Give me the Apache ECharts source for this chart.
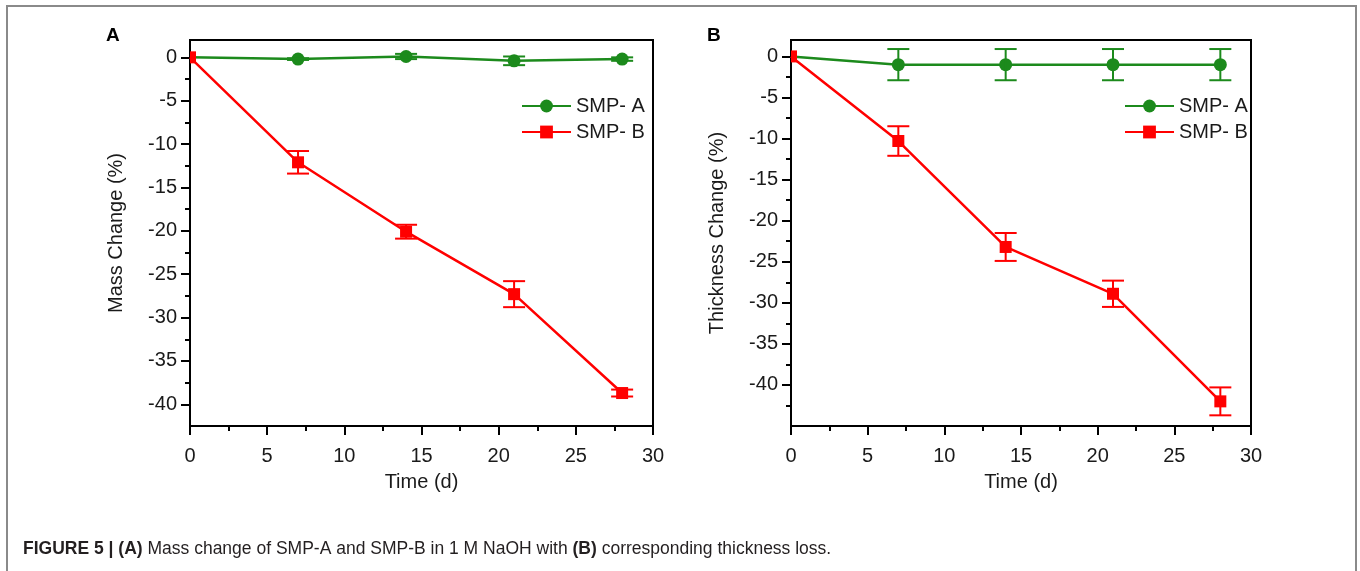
<!DOCTYPE html>
<html>
<head>
<meta charset="utf-8">
<title>Figure 5</title>
<script src="https://cdn.jsdelivr.net/npm/echarts@6/dist/echarts.min.js"></script>
<style>
  html, body { margin: 0; padding: 0; background: #fff; }
  #chart { width: 1360px; height: 571px; }
</style>
</head>
<body>
<div id="chart"></div>
<script>
// sampling days
const days = [0, 7, 14, 21, 28];

// panel A: mass change (%)
const massA = [0, -0.2, 0.1, -0.4, -0.2];
const massAErr = [0, 0.1, 0.3, 0.5, 0.2];
const massB = [0, -12.1, -20.1, -27.3, -38.7];
const massBErr = [0, 1.3, 0.8, 1.5, 0.4];

// panel B: thickness change (%)
const thickA = [0, -1.0, -1.0, -1.0, -1.0];
const thickAErr = [0, 1.9, 1.9, 1.9, 1.9];
const thickB = [0, -10.3, -23.2, -28.9, -42.0];
const thickBErr = [0, 1.8, 1.7, 1.6, 1.7];

// tick labels
const majorTicks = [0, -5, -10, -15, -20, -25, -30, -35, -40];
const minorTicksA = [-2.5, -7.5, -12.5, -17.5, -22.5, -27.5, -32.5, -37.5];
const minorTicksB = [-2.5, -7.5, -12.5, -17.5, -22.5, -27.5, -32.5, -37.5, -42.5];

const FONT = "'Liberation Sans', Arial, Helvetica, sans-serif";
const GREEN = "#1c8a1c";
const RED = "#ff0000";
const black = { color: "#000", width: 2 };

const chart = echarts.init(document.getElementById("chart"));

function xAxis(grid) {
  return {
    type: "value",
    gridIndex: grid,
    min: 0,
    max: 30,
    interval: 5,
    name: "Time (d)",
    nameLocation: "middle",
    nameGap: 46,
    nameTextStyle: { fontSize: 20, color: "#1a1a1a", fontFamily: FONT },
    axisLine: { onZero: false, lineStyle: black },
    axisTick: { length: 9, lineStyle: black },
    minorTick: { show: true, splitNumber: 2, length: 5, lineStyle: black },
    axisLabel: { fontSize: 20, color: "#1a1a1a", fontFamily: FONT, margin: 20 },
    splitLine: { show: false },
  };
}

function yAxes(grid, min, name, minors) {
  return [
    {
      type: "value",
      gridIndex: grid,
      min: min,
      max: 2,
      position: "left",
      name: name,
      nameLocation: "middle",
      nameGap: 64,
      nameTextStyle: { fontSize: 20, color: "#1a1a1a", fontFamily: FONT },
      axisLine: { show: true, onZero: false, lineStyle: black },
      axisTick: { show: true, customValues: majorTicks, length: 9, lineStyle: black },
      axisLabel: { customValues: majorTicks, fontSize: 20, color: "#1a1a1a", fontFamily: FONT, margin: 13 },
      splitLine: { show: false },
    },
    {
      // minor ticks only
      type: "value",
      gridIndex: grid,
      min: min,
      max: 2,
      position: "left",
      offset: 0,
      axisLine: { show: false },
      axisTick: { show: true, customValues: minors, length: 5, lineStyle: black },
      axisLabel: { show: false },
      splitLine: { show: false },
    },
  ];
}

function lineSeries(name, color, symbol, vals, grid) {
  return {
    type: "line",
    name: name,
    xAxisIndex: grid,
    yAxisIndex: grid * 2,
    symbol: symbol,
    symbolSize: symbol === "rect" ? 12 : 13,
    itemStyle: { color: color },
    lineStyle: { color: color, width: 2.5 },
    z: symbol === "rect" ? 4 : 3,
    data: days.map((d, i) => {
      if (i > 0) return [d, vals[i]];
      // first point sits on the y axis and is half hidden there
      return symbol === "rect"
        ? { value: [d, vals[i]], symbolSize: [6, 12], symbolOffset: [3, 0] }
        : { value: [d, vals[i]], symbol: "none" };
    }),
  };
}

function errSeries(color, vals, errs, grid) {
  return {
    type: "custom",
    xAxisIndex: grid,
    yAxisIndex: grid * 2,
    silent: true,
    z: 6,
    data: days
      .map((d, i) => [d, vals[i] - errs[i], vals[i] + errs[i]])
      .filter((_, i) => errs[i] > 0),
    renderItem(params, api) {
      const x = api.value(0);
      const lo = api.coord([x, api.value(1)]);
      const hi = api.coord([x, api.value(2)]);
      const w = 11;
      const style = { stroke: color, lineWidth: 2 };
      return {
        type: "group",
        children: [
          { type: "line", shape: { x1: lo[0], y1: lo[1], x2: hi[0], y2: hi[1] }, style },
          { type: "line", shape: { x1: lo[0] - w, y1: lo[1], x2: lo[0] + w, y2: lo[1] }, style },
          { type: "line", shape: { x1: hi[0] - w, y1: hi[1], x2: hi[0] + w, y2: hi[1] }, style },
        ],
      };
    },
  };
}

function legend(left) {
  return {
    data: ["SMP- A", "SMP- B"],
    orient: "vertical",
    left: left,
    top: 96,
    padding: 0,
    itemWidth: 49,
    itemHeight: 16,
    itemGap: 6,
    itemTextGap: 5,
    selectedMode: false,
    textStyle: { fontSize: 20, color: "#1a1a1a", fontFamily: FONT },
  };
}

chart.setOption({
  backgroundColor: "#fff",
  animation: false,
  grid: [
    { left: 190, top: 40, width: 463, height: 386, show: true, borderColor: "#000", borderWidth: 2 },
    { left: 791, top: 40, width: 460, height: 386, show: true, borderColor: "#000", borderWidth: 2 },
  ],
  legend: [legend(521), legend(1124)],
  xAxis: [xAxis(0), xAxis(1)],
  yAxis: [
    ...yAxes(0, -42.5, "Mass Change (%)", minorTicksA),
    ...yAxes(1, -45, "Thickness Change (%)", minorTicksB),
  ],
  series: [
    lineSeries("SMP- A", GREEN, "circle", massA, 0),
    lineSeries("SMP- B", RED, "rect", massB, 0),
    errSeries(GREEN, massA, massAErr, 0),
    errSeries(RED, massB, massBErr, 0),
    lineSeries("SMP- A", GREEN, "circle", thickA, 1),
    lineSeries("SMP- B", RED, "rect", thickB, 1),
    errSeries(GREEN, thickA, thickAErr, 1),
    errSeries(RED, thickB, thickBErr, 1),
  ],
  graphic: [
    {
      type: "rect",
      z: -1,
      shape: { x: 7, y: 6, width: 1349, height: 620 },
      style: { fill: "none", stroke: "#8a8a8a", lineWidth: 2 },
    },
    { type: "text", left: 106, top: 26, style: { text: "A", fontSize: 19, fontWeight: "bold", fontFamily: FONT, fill: "#000" } },
    { type: "text", left: 707, top: 26, style: { text: "B", fontSize: 19, fontWeight: "bold", fontFamily: FONT, fill: "#000" } },
    {
      type: "text",
      left: 23,
      top: 540,
      style: {
        text: "{b|FIGURE 5 | (A)} Mass change of SMP-A and SMP-B in 1 M NaOH with {b|(B)} corresponding thickness loss.",
        fontSize: 17.5,
        fontFamily: FONT,
        fill: "#231f20",
        rich: { b: { fontSize: 17.5, fontWeight: "bold", fontFamily: FONT, fill: "#231f20" } },
      },
    },
  ],
});

window.addEventListener("resize", () => chart.resize());
</script>
</body>
</html>
